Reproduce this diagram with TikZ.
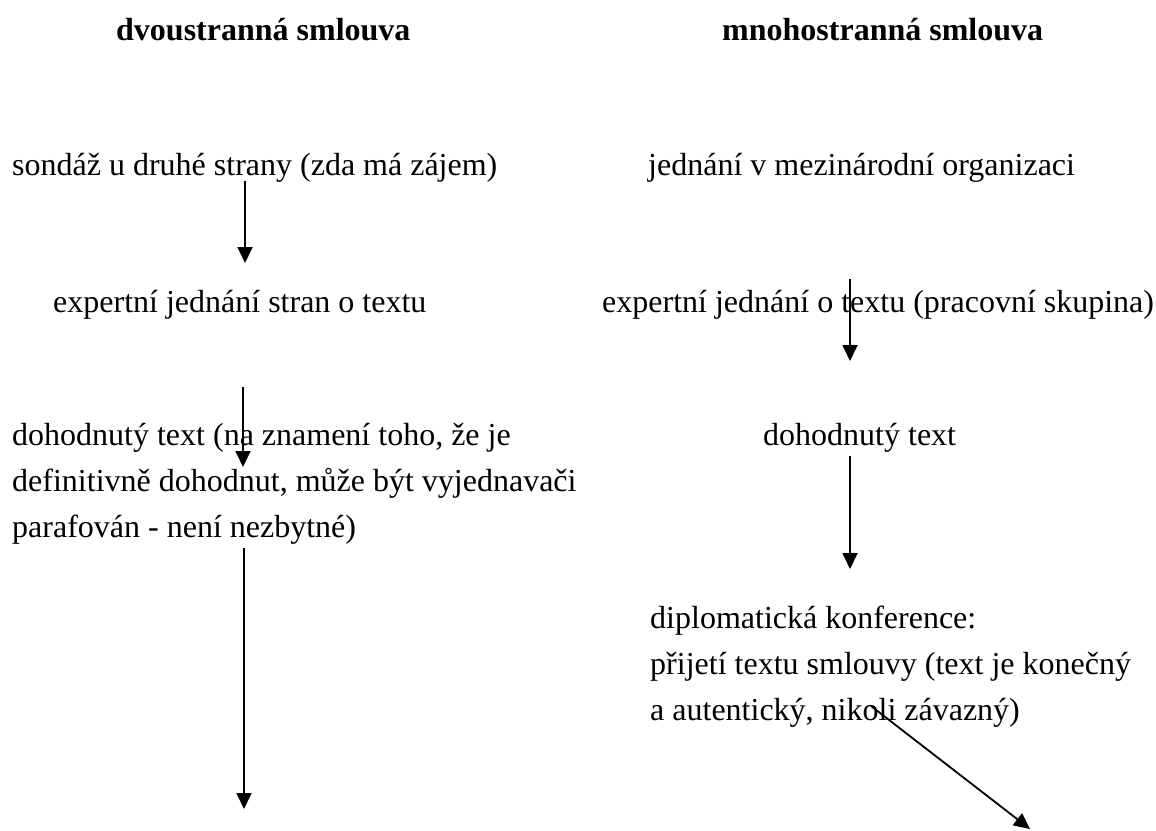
\documentclass[tikz,border=0pt]{standalone}
\usepackage{fontspec}
\setmainfont{Liberation Serif}
\usetikzlibrary{arrows.meta}
\begin{document}
\begin{tikzpicture}[x=1pt,y=-1pt,
  txt/.style={inner sep=0pt, anchor=base west, font=\fontsize{32}{46}\selectfont},
  title/.style={txt, font=\fontsize{32}{46}\selectfont\bfseries},
  arr/.style={line width=1.8pt, -{Triangle[width=15pt,length=16pt]}}]
\useasboundingbox (0,0) rectangle (1156,830);
% titles
\node[title] (t1) at (116,40) {dvoustranná smlouva};
\node[title] (t2) at (722,40) {mnohostranná smlouva};
% left column
\node[txt] (a1) at (12,175) {sondáž u druhé strany (zda má zájem)};
\node[txt] (a2) at (53,312) {expertní jednání stran o textu};
\node[txt] (a3) at (12,445) {dohodnutý text (na znamení toho, že je};
\node[txt] (a3b) at (12,491) {definitivně dohodnut, může být vyjednavači};
\node[txt] (a3c) at (12,537) {parafován - není nezbytné)};
% right column
\node[txt] (b1) at (648,175) {jednání v mezinárodní organizaci};
\node[txt] (b2) at (602,312) {expertní jednání o textu (pracovní skupina)};
\node[txt] (b3) at (763,445) {dohodnutý text};
\node[txt] (b4) at (650,628) {diplomatická konference:};
\node[txt] (b4b) at (650,674) {přijetí textu smlouvy (text je konečný};
\node[txt] (b4c) at (650,720) {a autentický, nikoli závazný)};
% arrow end points
\coordinate (l1s) at (245,181); \coordinate (l1e) at (245,263);
\coordinate (l2s) at (243,387); \coordinate (l2e) at (243,467);
\coordinate (l3s) at (244,548); \coordinate (l3e) at (244,809);
\coordinate (r1s) at (850,279); \coordinate (r1e) at (850,361);
\coordinate (r2s) at (850,456); \coordinate (r2e) at (850,569);
\coordinate (r3s) at (871,706); \coordinate (r3e) at (1030,829);
% arrows
\draw[arr] (l1s) -- (l1e);
\draw[arr] (l2s) -- (l2e);
\draw[arr] (l3s) -- (l3e);
\draw[arr] (r1s) -- (r1e);
\draw[arr] (r2s) -- (r2e);
\draw[arr] (r3s) -- (r3e);
\end{tikzpicture}
\end{document}
